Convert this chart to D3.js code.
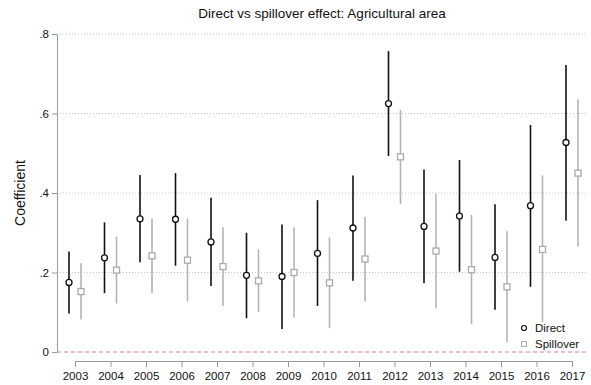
<!DOCTYPE html>
<html>
<head>
<meta charset="utf-8">
<script src="https://cdn.jsdelivr.net/npm/d3@7"></script>
<style>
  body { margin: 0; background: #fff; }
  text { font-family: "Liberation Sans", Arial, sans-serif; }
</style>
</head>
<body>
<script>
// Estimates
const years = [2003, 2004, 2005, 2006, 2007, 2008, 2009, 2010, 2011, 2012, 2013, 2014, 2015, 2016, 2017];
const direct    = [0.175, 0.237, 0.335, 0.334, 0.277, 0.193, 0.190, 0.248, 0.312, 0.625, 0.316, 0.342, 0.238, 0.368, 0.527];
const directLo  = [0.097, 0.148, 0.226, 0.217, 0.166, 0.085, 0.058, 0.116, 0.179, 0.493, 0.173, 0.202, 0.106, 0.164, 0.330];
const directHi  = [0.253, 0.326, 0.445, 0.450, 0.388, 0.300, 0.321, 0.382, 0.444, 0.757, 0.459, 0.483, 0.372, 0.571, 0.722];
const spill     = [0.152, 0.206, 0.242, 0.231, 0.215, 0.179, 0.200, 0.174, 0.234, 0.491, 0.254, 0.207, 0.164, 0.258, 0.450];
const spillLo   = [0.082, 0.122, 0.148, 0.127, 0.116, 0.101, 0.087, 0.060, 0.127, 0.372, 0.111, 0.070, 0.025, 0.075, 0.265];
const spillHi   = [0.223, 0.290, 0.336, 0.336, 0.314, 0.258, 0.314, 0.288, 0.340, 0.609, 0.399, 0.345, 0.304, 0.444, 0.636];
const yTicks = [0, 0.2, 0.4, 0.6, 0.8];

const w = 591, h = 385;
const svg = d3.select("body").append("svg")
  .attr("width", w).attr("height", h);

const x = d3.scaleLinear().domain([2003, 2017]).range([75, 572]);
const y = d3.scaleLinear().domain([0, 0.8]).range([352, 34]);
const left = 57, right = 588;
const off = 6;

// title
svg.append("text")
  .attr("x", 322).attr("y", 18)
  .attr("text-anchor", "middle")
  .attr("font-size", 13.5)
  .attr("fill", "#111")
  .text("Direct vs spillover effect: Agricultural area");

// dotted gridlines
svg.append("g").selectAll("line")
  .data(yTicks.filter(d => d > 0))
  .join("line")
  .attr("x1", left).attr("x2", right)
  .attr("y1", d => y(d)).attr("y2", d => y(d))
  .attr("stroke", "#c8c8c8")
  .attr("stroke-dasharray", "1,2");

// zero reference line
svg.append("line")
  .attr("x1", left).attr("x2", right)
  .attr("y1", y(0)).attr("y2", y(0))
  .attr("stroke", "#e07ab8")
  .attr("stroke-width", 1.2)
  .attr("stroke-dasharray", "4,3");

// y axis
const yAxis = svg.append("g")
  .attr("transform", `translate(${left},0)`)
  .call(d3.axisLeft(y).tickValues(yTicks).tickSize(5).tickSizeOuter(0)
    .tickFormat(d => d === 0 ? "0" : d3.format(".1f")(d).replace(/^0/, "")));
yAxis.select("path.domain").attr("stroke", "#999");
yAxis.selectAll(".tick line").attr("stroke", "#999");
yAxis.selectAll(".tick text")
  .attr("font-size", 11.5).attr("fill", "#111")
  .attr("font-family", "Liberation Sans, Arial, sans-serif");

svg.append("text")
  .attr("transform", `translate(25,193) rotate(-90)`)
  .attr("text-anchor", "middle")
  .attr("font-size", 14)
  .attr("fill", "#111")
  .text("Coefficient");

// x axis
const xAxis = svg.append("g")
  .attr("transform", "translate(0,361)")
  .call(d3.axisBottom(x).tickValues(years).tickSize(6).tickSizeOuter(0).tickFormat(d3.format("d")));
xAxis.select("path.domain").attr("stroke", "#999");
xAxis.selectAll(".tick line").attr("stroke", "#999");
xAxis.selectAll(".tick text")
  .attr("font-size", 11.5).attr("fill", "#111").attr("dy", "0.9em")
  .attr("font-family", "Liberation Sans, Arial, sans-serif");

// spillover CIs and markers
const idx = d3.range(years.length);
svg.append("g").selectAll("line")
  .data(idx).join("line")
  .attr("x1", i => x(years[i]) + off).attr("x2", i => x(years[i]) + off)
  .attr("y1", i => y(spillLo[i])).attr("y2", i => y(spillHi[i]))
  .attr("stroke", "#b4b4b4").attr("stroke-width", 1.6);
svg.append("g").selectAll("rect")
  .data(idx).join("rect")
  .attr("x", i => x(years[i]) + off - 3).attr("y", i => y(spill[i]) - 3)
  .attr("width", 6).attr("height", 6)
  .attr("fill", "#fff").attr("stroke", "#aaa").attr("stroke-width", 1.3);

// direct CIs and markers
svg.append("g").selectAll("line")
  .data(idx).join("line")
  .attr("x1", i => x(years[i]) - off).attr("x2", i => x(years[i]) - off)
  .attr("y1", i => y(directLo[i])).attr("y2", i => y(directHi[i]))
  .attr("stroke", "#111").attr("stroke-width", 1.6);
svg.append("g").selectAll("circle")
  .data(idx).join("circle")
  .attr("cx", i => x(years[i]) - off).attr("cy", i => y(direct[i]))
  .attr("r", 3)
  .attr("fill", "#fff").attr("stroke", "#111").attr("stroke-width", 1.3);

// legend
const lg = svg.append("g");
lg.append("circle").attr("cx", 524).attr("cy", 328).attr("r", 2.5)
  .attr("fill", "#fff").attr("stroke", "#111").attr("stroke-width", 1.2);
lg.append("text").attr("x", 535).attr("y", 332).attr("font-size", 11.5).attr("fill", "#111").text("Direct");
lg.append("rect").attr("x", 521.5).attr("y", 341.5).attr("width", 5).attr("height", 5)
  .attr("fill", "#fff").attr("stroke", "#aaa").attr("stroke-width", 1);
lg.append("text").attr("x", 535).attr("y", 348).attr("font-size", 11.5).attr("fill", "#111").text("Spillover");
</script>
</body>
</html>
